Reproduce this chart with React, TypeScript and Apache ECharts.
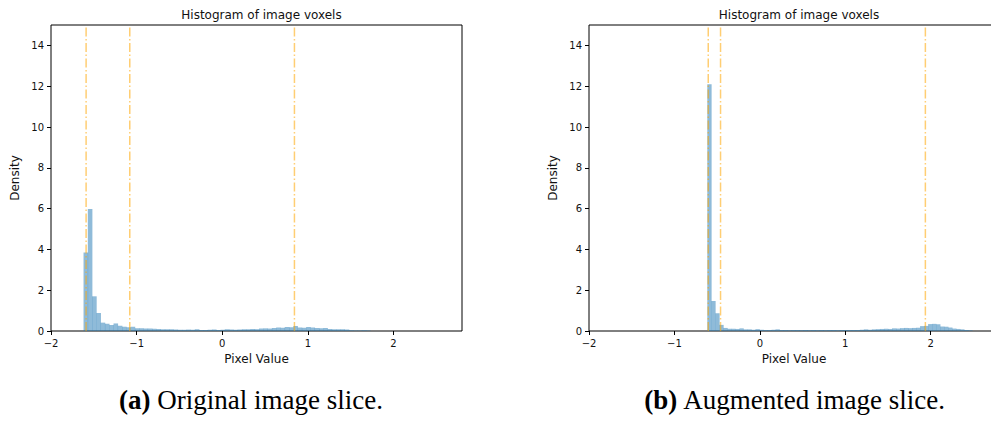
import React, { useEffect, useRef } from "react";
import * as echarts from "echarts";

// Histogram (a): bin start, bin width and densities
const leftBinStart = -1.62;
const leftBinWidth = 0.05;
const leftDensity = [
  3.85, 5.98, 1.7, 0.88, 0.41, 0.36, 0.29, 0.37, 0.26, 0.21,
  0.18, 0.21, 0.14, 0.13, 0.12, 0.12, 0.11, 0.1, 0.08, 0.08,
  0.08, 0.07, 0.06, 0.06, 0.07, 0.06, 0.08, 0.05, 0.05, 0.06,
  0.07, 0.05, 0.06, 0.08, 0.07, 0.06, 0.07, 0.09, 0.08, 0.1,
  0.09, 0.12, 0.13, 0.12, 0.15, 0.17, 0.16, 0.19, 0.18, 0.25,
  0.17, 0.16, 0.19, 0.17, 0.15, 0.14, 0.15, 0.1, 0.09, 0.09,
  0.08, 0.07, 0.04, 0.03, 0.02, 0.04, 0.02,
];
const leftLines = [-1.59, -1.08, 0.843];

// Histogram (b)
const rightBinStart = -0.615;
const rightBinWidth = 0.047;
const rightDensity = [
  12.1, 1.47, 0.87, 0.3, 0.15, 0.11, 0.11, 0.1, 0.13, 0.08,
  0.08, 0.06, 0.09, 0.06, 0.05, 0.05, 0.06, 0.08, 0.05, 0.05,
  0.04, 0.05, 0.05, 0.04, 0.05, 0.04, 0.05, 0.04, 0.05, 0.04,
  0.05, 0.05, 0.04, 0.05, 0.05, 0.05, 0.05, 0.05, 0.06, 0.08,
  0.06, 0.08, 0.09, 0.1, 0.11, 0.1, 0.13, 0.12, 0.14, 0.15,
  0.14, 0.15, 0.16, 0.24, 0.25, 0.34, 0.35, 0.33, 0.22, 0.21,
  0.17, 0.12, 0.1, 0.08, 0.05, 0.03,
];
const rightLines = [-0.604, -0.46, 1.938];

const xTicks = [-2, -1, 0, 1, 2];
const yTicks = [0, 2, 4, 6, 8, 10, 12, 14];
const xRange = [-2, 2.8];
const yRange = [0, 15];

const titleText = "Histogram of image voxels";
const xName = "Pixel Value";
const yName = "Density";
const captions = [
  { tag: "(a)", text: " Original image slice." },
  { tag: "(b)", text: " Augmented image slice." },
];

const SANS = "DejaVu Sans";
const SERIF = "Liberation Serif";

function bins(start: number, width: number, vals: number[]) {
  return vals.map((v, i) => [start + i * width, start + (i + 1) * width, v]);
}

export default function App() {
  const ref = useRef<HTMLDivElement>(null);
  useEffect(() => {
    if (!ref.current) return;
    const chart = echarts.init(ref.current, null, { renderer: "svg" });
    const grids = [
      { left: 51, top: 25, width: 411, height: 306 },
      { left: 589, top: 25, width: 410, height: 306 },
    ];
    const xAxes = grids.map((_, i) => ({
      type: "value",
      gridIndex: i,
      position: "bottom",
      min: xRange[0],
      max: xRange[1],
      name: xName,
      nameLocation: "middle",
      nameGap: 21,
      nameTextStyle: { fontFamily: SANS, fontSize: 12, color: "#111" },
      axisLine: { show: false, onZero: false },
      splitLine: { show: false },
      axisTick: { show: true, inside: false, length: 4, customValues: xTicks, lineStyle: { color: "#000", width: 1 } },
      axisLabel: {
        customValues: xTicks,
        margin: 7,
        fontFamily: SANS,
        fontSize: 10,
        color: "#111",
        formatter: (v: number) => String(v).replace("-", "\u2212"),
      },
    }));
    const yAxes = grids.map((_, i) => ({
      type: "value",
      gridIndex: i,
      position: "left",
      min: yRange[0],
      max: yRange[1],
      name: yName,
      nameLocation: "middle",
      nameGap: 30,
      nameTextStyle: { fontFamily: SANS, fontSize: 12, color: "#111" },
      axisLine: { show: false, onZero: false },
      splitLine: { show: false },
      axisTick: { show: true, inside: false, length: 4, customValues: yTicks, lineStyle: { color: "#000", width: 1 } },
      axisLabel: { customValues: yTicks, margin: 7, fontFamily: SANS, fontSize: 10, color: "#111" },
    }));
    const histSets = [
      bins(leftBinStart, leftBinWidth, leftDensity),
      bins(rightBinStart, rightBinWidth, rightDensity),
    ];
    const lineSets = [leftLines, rightLines];
    const series: any[] = [];
    histSets.forEach((data, i) => {
      series.push({
        type: "custom",
        xAxisIndex: i,
        yAxisIndex: i,
        data,
        encode: { x: [0, 1], y: 2 },
        clip: true,
        z: 2,
        renderItem: (_p: any, api: any) => {
          const p0 = api.coord([api.value(0), 0]);
          const p1 = api.coord([api.value(1), api.value(2)]);
          return {
            type: "rect",
            shape: { x: p0[0], y: p1[1], width: p1[0] - p0[0] + 0.3, height: p0[1] - p1[1] },
            style: { fill: "rgba(31,119,180,0.5)" },
          };
        },
      });
    });
    lineSets.forEach((vals, i) => {
      vals.forEach((v) => {
        series.push({
          type: "line",
          xAxisIndex: i,
          yAxisIndex: i,
          data: [
            [v, yRange[0]],
            [v, yRange[1]],
          ],
          symbol: "none",
          silent: true,
          z: 3,
          lineStyle: { color: "rgba(255,165,0,0.55)", width: 1.5, type: [9, 2.5, 1.5, 2.5] },
        });
      });
    });
    const titles = grids.map((g) => ({
      text: titleText,
      left: g.left + g.width / 2,
      top: 4,
      textAlign: "center",
      textStyle: { fontFamily: SANS, fontSize: 12, fontWeight: "normal", color: "#111" },
    }));
    const captionCenters = [251, 795];
    const graphic = captions.map((c, i) => ({
      type: "text",
      x: captionCenters[i],
      y: 400,
      style: {
        text: `{b|${c.tag}}${c.text}`,
        align: "center",
        verticalAlign: "middle",
        fontFamily: SERIF,
        fontSize: 27,
        fill: "#000",
        rich: {
          b: { fontFamily: SERIF, fontSize: 27, fontWeight: "bold", fill: "#000" },
        },
      },
    }));
    chart.setOption({
      animation: false,
      backgroundColor: "#fff",
      title: titles,
      grid: grids.map((g) => ({ ...g, show: true, borderColor: "#000", borderWidth: 1, backgroundColor: "#fff" })),
      xAxis: xAxes,
      yAxis: yAxes,
      series,
      graphic,
    });
    return () => chart.dispose();
  }, []);
  return (
    <div
      style={{ position: "absolute", left: 0, top: 0, width: 991, height: 421, overflow: "hidden" }}
    >
      <div ref={ref} style={{ width: 1010, height: 421 }} />
    </div>
  );
}
